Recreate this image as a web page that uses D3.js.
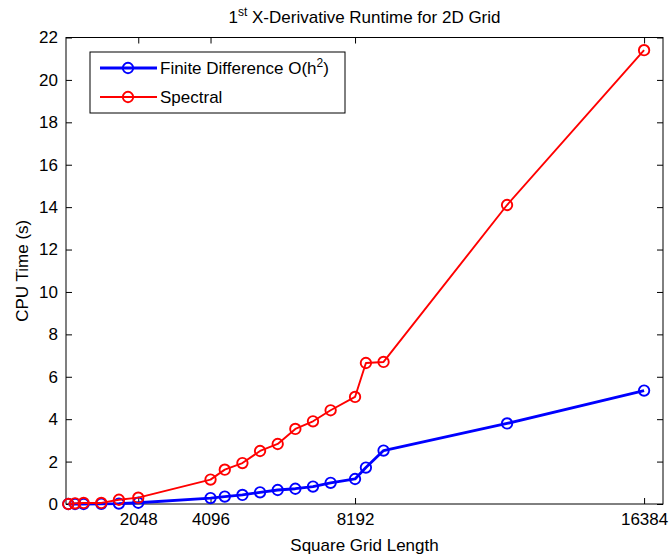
<!DOCTYPE html>
<html>
<head>
<meta charset="utf-8">
<script src="https://cdn.jsdelivr.net/npm/d3@7"></script>
<style>
  html, body { margin: 0; padding: 0; background: #fff; }
  svg { display: block; font-family: "Liberation Sans", Arial, sans-serif; }
</style>
</head>
<body>
<svg id="chart" width="670" height="556"></svg>
<script>
// Grid sizes (square grid side length) and measured CPU times in seconds
const gridLengths = [64, 256, 500, 1000, 1500, 2048, 4096, 4500, 5000, 5500, 6000, 6500, 7000, 7500, 8192, 8500, 9000, 12500, 16384];
const finiteDiffTimes = [0.0, 0.0, 0.0, 0.01, 0.02, 0.06, 0.28, 0.35, 0.43, 0.55, 0.66, 0.72, 0.82, 1.0, 1.18, 1.72, 2.52, 3.8, 5.35];
const spectralTimes = [0.0, 0.03, 0.05, 0.05, 0.2, 0.3, 1.15, 1.62, 1.93, 2.5, 2.83, 3.54, 3.9, 4.42, 5.05, 6.65, 6.7, 14.1, 21.4];
const xTickValues = [2048, 4096, 8192, 16384];
const yTickValues = [0, 2, 4, 6, 8, 10, 12, 14, 16, 18, 20, 22];

const seriesList = [
  { name: "Finite Difference O(h", sup: "2", tail: ")", values: finiteDiffTimes, color: "#0000ff", width: 2.8 },
  { name: "Spectral", values: spectralTimes, color: "#ff0000", width: 1.9 }
];

const svg = d3.select("#chart");
const plotLeft = 66, plotRight = 663, plotTop = 37.5, plotBottom = 504;

const x = d3.scaleLinear().domain([0, 16920]).range([plotLeft, plotRight]);
const y = d3.scaleLinear().domain([0, 22]).range([plotBottom, plotTop]);

const fontSize = 17;
const tickLen = 6;
const fontFamily = "Liberation Sans, Arial, sans-serif";

// Axes box
svg.append("rect")
  .attr("x", plotLeft).attr("y", plotTop)
  .attr("width", plotRight - plotLeft).attr("height", plotBottom - plotTop)
  .attr("fill", "none").attr("stroke", "#000").attr("stroke-width", 1);

// Bottom axis ticks and labels, mirrored on top
const xAxis = d3.axisBottom(x).tickValues(xTickValues).tickSize(-tickLen).tickPadding(9).tickFormat(d3.format("d"));
const gx = svg.append("g").attr("transform", `translate(0,${plotBottom})`).call(xAxis);
gx.select(".domain").remove();
gx.selectAll("text").attr("font-size", fontSize).attr("font-family", fontFamily).attr("fill", "#000");
gx.selectAll("line").attr("stroke", "#000");

const gxTop = svg.append("g").attr("transform", `translate(0,${plotTop})`)
  .call(d3.axisTop(x).tickValues(xTickValues).tickSize(-tickLen).tickFormat(""));
gxTop.select(".domain").remove();
gxTop.selectAll("line").attr("stroke", "#000");

// Left axis ticks and labels, mirrored on right
const yAxis = d3.axisLeft(y).tickValues(yTickValues).tickSize(-tickLen).tickPadding(8);
const gy = svg.append("g").attr("transform", `translate(${plotLeft},0)`).call(yAxis);
gy.select(".domain").remove();
gy.selectAll("text").attr("font-size", fontSize).attr("font-family", fontFamily).attr("fill", "#000");
gy.selectAll("line").attr("stroke", "#000");

const gyRight = svg.append("g").attr("transform", `translate(${plotRight},0)`)
  .call(d3.axisRight(y).tickValues(yTickValues).tickSize(-tickLen).tickFormat(""));
gyRight.select(".domain").remove();
gyRight.selectAll("line").attr("stroke", "#000");

// Data lines with open circle markers
const line = d3.line().x((d, i) => x(gridLengths[i])).y(d => y(d));
seriesList.forEach(s => {
  const g = svg.append("g");
  g.append("path").datum(s.values)
    .attr("d", line).attr("fill", "none")
    .attr("stroke", s.color).attr("stroke-width", s.width)
    .attr("stroke-linejoin", "round");
  g.selectAll("circle").data(s.values).join("circle")
    .attr("cx", (d, i) => x(gridLengths[i])).attr("cy", d => y(d))
    .attr("r", 5.2).attr("fill", "none")
    .attr("stroke", s.color).attr("stroke-width", 1.9);
});

// Title with superscript ordinal
const title = svg.append("text")
  .attr("x", (plotLeft + plotRight) / 2).attr("y", 23)
  .attr("text-anchor", "middle").attr("font-size", fontSize).attr("fill", "#000");
title.append("tspan").text("1");
title.append("tspan").attr("dy", -7).attr("font-size", 12).text("st");
title.append("tspan").attr("dy", 7).text(" X-Derivative Runtime for 2D Grid");

// Axis labels
svg.append("text")
  .attr("x", (plotLeft + plotRight) / 2).attr("y", 551)
  .attr("text-anchor", "middle").attr("font-size", fontSize).attr("fill", "#000")
  .text("Square Grid Length");

svg.append("text")
  .attr("transform", `translate(28,${(plotTop + plotBottom) / 2}) rotate(-90)`)
  .attr("text-anchor", "middle").attr("font-size", fontSize).attr("fill", "#000")
  .text("CPU Time (s)");

// Legend
const legend = svg.append("g");
legend.append("rect")
  .attr("x", 90).attr("y", 52).attr("width", 255).attr("height", 61)
  .attr("fill", "#fff").attr("stroke", "#000").attr("stroke-width", 1);
seriesList.forEach((s, i) => {
  const ly = 68 + i * 29;
  legend.append("line").attr("x1", 100).attr("x2", 157).attr("y1", ly).attr("y2", ly)
    .attr("stroke", s.color).attr("stroke-width", s.width);
  legend.append("circle").attr("cx", 128).attr("cy", ly).attr("r", 5.2)
    .attr("fill", "none").attr("stroke", s.color).attr("stroke-width", 1.9);
  const t = legend.append("text").attr("x", 160).attr("y", ly + 6)
    .attr("font-size", fontSize).attr("fill", "#000");
  t.append("tspan").text(s.name);
  if (s.sup) {
    t.append("tspan").attr("dy", -7).attr("font-size", 12).text(s.sup);
    t.append("tspan").attr("dy", 7).text(s.tail);
  }
});
</script>
</body>
</html>
